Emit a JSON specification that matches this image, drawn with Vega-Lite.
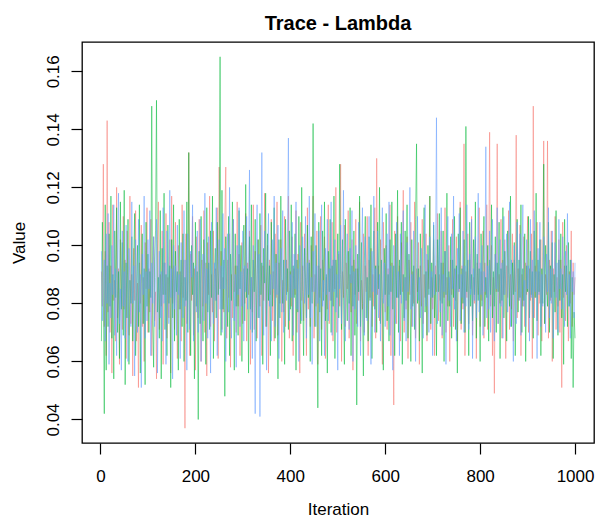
{
"$schema": "https://vega.github.io/schema/vega-lite/v6.json",
"width": 512,
"height": 401,
"autosize": {"type": "none"},
"padding": {"left": 82, "top": 42, "right": 3, "bottom": 79},
"background": "white",
"config": {"view": {"stroke": "black", "strokeWidth": 1.3}, "font": "Liberation Sans"},
"title": {"text": "Trace - Lambda", "fontSize": 20, "fontWeight": "bold", "font": "Liberation Sans", "color": "black", "anchor": "middle", "baseline": "alphabetic", "offset": 14, "dy": 22},
"data": {"values": [
{"i":2,"a":0.091,"b":0.067,"c":0.098},{"i":4,"a":0.079,"b":0.108,"c":0.074},{"i":6,"a":0.128,"b":0.085,"c":0.089},{"i":8,"a":0.072,"b":0.042,"c":0.095},{"i":10,"a":0.098,"b":0.114,"c":0.067},
{"i":12,"a":0.062,"b":0.057,"c":0.104},{"i":14,"a":0.143,"b":0.093,"c":0.080},{"i":16,"a":0.077,"b":0.072,"c":0.111},{"i":18,"a":0.108,"b":0.104,"c":0.059},{"i":20,"a":0.070,"b":0.079,"c":0.087},
{"i":22,"a":0.093,"b":0.117,"c":0.075},{"i":24,"a":0.056,"b":0.068,"c":0.100},{"i":26,"a":0.114,"b":0.090,"c":0.083},{"i":28,"a":0.081,"b":0.054,"c":0.114},{"i":30,"a":0.088,"b":0.105,"c":0.069},
{"i":32,"a":0.067,"b":0.082,"c":0.092},{"i":34,"a":0.120,"b":0.113,"c":0.062},{"i":36,"a":0.075,"b":0.070,"c":0.097},{"i":38,"a":0.092,"b":0.091,"c":0.118},{"i":40,"a":0.059,"b":0.061,"c":0.073},
{"i":42,"a":0.102,"b":0.115,"c":0.085},{"i":44,"a":0.084,"b":0.078,"c":0.057},{"i":46,"a":0.071,"b":0.101,"c":0.105},{"i":48,"a":0.110,"b":0.069,"c":0.079},{"i":50,"a":0.078,"b":0.119,"c":0.091},
{"i":52,"a":0.095,"b":0.052,"c":0.068},{"i":54,"a":0.061,"b":0.094,"c":0.107},{"i":56,"a":0.105,"b":0.075,"c":0.082},{"i":58,"a":0.083,"b":0.109,"c":0.060},{"i":60,"a":0.069,"b":0.059,"c":0.099},
{"i":62,"a":0.117,"b":0.088,"c":0.087},{"i":64,"a":0.073,"b":0.080,"c":0.072},{"i":66,"a":0.090,"b":0.103,"c":0.115},{"i":68,"a":0.055,"b":0.067,"c":0.080},{"i":70,"a":0.099,"b":0.095,"c":0.093},
{"i":72,"a":0.081,"b":0.111,"c":0.055},{"i":74,"a":0.112,"b":0.062,"c":0.102},{"i":76,"a":0.067,"b":0.084,"c":0.084},{"i":78,"a":0.087,"b":0.100,"c":0.070},{"i":80,"a":0.051,"b":0.072,"c":0.109},
{"i":82,"a":0.094,"b":0.114,"c":0.077},{"i":84,"a":0.080,"b":0.056,"c":0.090},{"i":86,"a":0.107,"b":0.087,"c":0.051},{"i":88,"a":0.072,"b":0.104,"c":0.097},{"i":90,"a":0.089,"b":0.073,"c":0.083},
{"i":92,"a":0.060,"b":0.092,"c":0.117},{"i":94,"a":0.101,"b":0.052,"c":0.068},{"i":96,"a":0.085,"b":0.108,"c":0.091},{"i":98,"a":0.113,"b":0.079,"c":0.074},{"i":100,"a":0.070,"b":0.097,"c":0.102},
{"i":102,"a":0.092,"b":0.070,"c":0.085},{"i":104,"a":0.077,"b":0.091,"c":0.112},{"i":106,"a":0.109,"b":0.082,"c":0.062},{"i":108,"a":0.062,"b":0.148,"c":0.094},{"i":110,"a":0.088,"b":0.074,"c":0.080},
{"i":112,"a":0.103,"b":0.058,"c":0.103},{"i":114,"a":0.074,"b":0.095,"c":0.072},{"i":116,"a":0.084,"b":0.105,"c":0.089},{"i":118,"a":0.054,"b":0.150,"c":0.109},{"i":120,"a":0.098,"b":0.077,"c":0.056},
{"i":122,"a":0.115,"b":0.089,"c":0.084},{"i":124,"a":0.071,"b":0.068,"c":0.098},{"i":126,"a":0.090,"b":0.112,"c":0.075},{"i":128,"a":0.079,"b":0.054,"c":0.091},{"i":130,"a":0.105,"b":0.099,"c":0.067},
{"i":132,"a":0.059,"b":0.083,"c":0.113},{"i":134,"a":0.094,"b":0.118,"c":0.080},{"i":136,"a":0.083,"b":0.071,"c":0.094},{"i":138,"a":0.111,"b":0.090,"c":0.059},{"i":140,"a":0.068,"b":0.062,"c":0.105},
{"i":142,"a":0.089,"b":0.107,"c":0.087},{"i":144,"a":0.075,"b":0.080,"c":0.073},{"i":146,"a":0.102,"b":0.093,"c":0.119},{"i":148,"a":0.056,"b":0.051,"c":0.082},{"i":150,"a":0.117,"b":0.102,"c":0.092},
{"i":152,"a":0.080,"b":0.075,"c":0.054},{"i":154,"a":0.093,"b":0.114,"c":0.100},{"i":156,"a":0.071,"b":0.067,"c":0.078},{"i":158,"a":0.108,"b":0.098,"c":0.093},{"i":160,"a":0.085,"b":0.084,"c":0.069},
{"i":162,"a":0.061,"b":0.091,"c":0.107},{"i":164,"a":0.100,"b":0.057,"c":0.083},{"i":166,"a":0.078,"b":0.109,"c":0.090},{"i":168,"a":0.091,"b":0.078,"c":0.061},{"i":170,"a":0.067,"b":0.095,"c":0.101},
{"i":172,"a":0.114,"b":0.072,"c":0.087},{"i":174,"a":0.082,"b":0.104,"c":0.075},{"i":176,"a":0.095,"b":0.060,"c":0.112},{"i":178,"a":0.037,"b":0.089,"c":0.079},{"i":180,"a":0.104,"b":0.081,"c":0.095},
{"i":182,"a":0.073,"b":0.115,"c":0.057},{"i":184,"a":0.089,"b":0.070,"c":0.104},{"i":186,"a":0.132,"b":0.132,"c":0.084},{"i":188,"a":0.062,"b":0.087,"c":0.071},{"i":190,"a":0.097,"b":0.062,"c":0.098},
{"i":192,"a":0.081,"b":0.100,"c":0.089},{"i":194,"a":0.110,"b":0.083,"c":0.114},{"i":196,"a":0.069,"b":0.094,"c":0.067},{"i":198,"a":0.092,"b":0.054,"c":0.082},{"i":200,"a":0.057,"b":0.108,"c":0.093},
{"i":202,"a":0.103,"b":0.079,"c":0.077},{"i":204,"a":0.084,"b":0.091,"c":0.105},{"i":206,"a":0.075,"b":0.040,"c":0.070},{"i":208,"a":0.109,"b":0.098,"c":0.091},{"i":210,"a":0.088,"b":0.073,"c":0.109},
{"i":212,"a":0.060,"b":0.110,"c":0.060},{"i":214,"a":0.095,"b":0.085,"c":0.085},{"i":216,"a":0.079,"b":0.067,"c":0.097},{"i":218,"a":0.112,"b":0.102,"c":0.074},{"i":220,"a":0.070,"b":0.089,"c":0.118},
{"i":222,"a":0.094,"b":0.059,"c":0.080},{"i":224,"a":0.055,"b":0.113,"c":0.092},{"i":226,"a":0.101,"b":0.077,"c":0.068},{"i":228,"a":0.083,"b":0.094,"c":0.103},{"i":230,"a":0.117,"b":0.071,"c":0.084},
{"i":232,"a":0.072,"b":0.105,"c":0.056},{"i":234,"a":0.090,"b":0.082,"c":0.108},{"i":236,"a":0.077,"b":0.117,"c":0.087},{"i":238,"a":0.105,"b":0.061,"c":0.073},{"i":240,"a":0.067,"b":0.090,"c":0.094},
{"i":242,"a":0.092,"b":0.099,"c":0.081},{"i":244,"a":0.081,"b":0.075,"c":0.113},{"i":246,"a":0.113,"b":0.108,"c":0.062},{"i":248,"a":0.061,"b":0.083,"c":0.090},{"i":250,"a":0.127,"b":0.092,"c":0.102},
{"i":252,"a":0.085,"b":0.165,"c":0.078},{"i":254,"a":0.098,"b":0.069,"c":0.093},{"i":256,"a":0.071,"b":0.119,"c":0.070},{"i":258,"a":0.089,"b":0.078,"c":0.111},{"i":260,"a":0.077,"b":0.095,"c":0.085},
{"i":262,"a":0.108,"b":0.048,"c":0.099},{"i":264,"a":0.127,"b":0.103,"c":0.060},{"i":266,"a":0.068,"b":0.084,"c":0.088},{"i":268,"a":0.095,"b":0.072,"c":0.104},{"i":270,"a":0.082,"b":0.110,"c":0.077},
{"i":272,"a":0.104,"b":0.062,"c":0.120},{"i":274,"a":0.058,"b":0.097,"c":0.082},{"i":276,"a":0.090,"b":0.081,"c":0.068},{"i":278,"a":0.075,"b":0.115,"c":0.095},{"i":280,"a":0.109,"b":0.088,"c":0.109},
{"i":282,"a":0.084,"b":0.057,"c":0.074},{"i":284,"a":0.093,"b":0.104,"c":0.090},{"i":286,"a":0.070,"b":0.079,"c":0.058},{"i":288,"a":0.115,"b":0.093,"c":0.100},{"i":290,"a":0.079,"b":0.069,"c":0.083},
{"i":292,"a":0.097,"b":0.112,"c":0.113},{"i":294,"a":0.062,"b":0.085,"c":0.072},{"i":296,"a":0.088,"b":0.100,"c":0.091},{"i":298,"a":0.101,"b":0.060,"c":0.079},{"i":300,"a":0.073,"b":0.090,"c":0.105},
{"i":302,"a":0.092,"b":0.107,"c":0.067},{"i":304,"a":0.080,"b":0.074,"c":0.093},{"i":306,"a":0.111,"b":0.121,"c":0.084},{"i":308,"a":0.067,"b":0.082,"c":0.110},{"i":310,"a":0.094,"b":0.092,"c":0.078},
{"i":312,"a":0.083,"b":0.056,"c":0.094},{"i":314,"a":0.105,"b":0.103,"c":0.126},{"i":316,"a":0.059,"b":0.078,"c":0.071},{"i":318,"a":0.089,"b":0.114,"c":0.089},{"i":320,"a":0.077,"b":0.070,"c":0.061},
{"i":322,"a":0.114,"b":0.095,"c":0.100},{"i":324,"a":0.071,"b":0.084,"c":0.083},{"i":326,"a":0.098,"b":0.109,"c":0.042},{"i":328,"a":0.085,"b":0.067,"c":0.092},{"i":330,"a":0.068,"b":0.090,"c":0.114},
{"i":332,"a":0.102,"b":0.102,"c":0.075},{"i":334,"a":0.090,"b":0.075,"c":0.097},{"i":336,"a":0.079,"b":0.111,"c":0.041},{"i":338,"a":0.107,"b":0.083,"c":0.088},{"i":340,"a":0.062,"b":0.094,"c":0.132},
{"i":342,"a":0.093,"b":0.059,"c":0.081},{"i":344,"a":0.081,"b":0.099,"c":0.069},{"i":346,"a":0.118,"b":0.087,"c":0.105},{"i":348,"a":0.072,"b":0.118,"c":0.084},{"i":350,"a":0.087,"b":0.072,"c":0.057},
{"i":352,"a":0.100,"b":0.104,"c":0.095},{"i":354,"a":0.056,"b":0.081,"c":0.111},{"i":356,"a":0.095,"b":0.093,"c":0.079},{"i":358,"a":0.083,"b":0.062,"c":0.090},{"i":360,"a":0.109,"b":0.108,"c":0.067},
{"i":362,"a":0.074,"b":0.079,"c":0.102},{"i":364,"a":0.091,"b":0.090,"c":0.085},{"i":366,"a":0.067,"b":0.113,"c":0.117},{"i":368,"a":0.104,"b":0.068,"c":0.072},{"i":370,"a":0.082,"b":0.097,"c":0.094},
{"i":372,"a":0.115,"b":0.084,"c":0.083},{"i":374,"a":0.069,"b":0.054,"c":0.107},{"i":376,"a":0.094,"b":0.102,"c":0.061},{"i":378,"a":0.080,"b":0.075,"c":0.091},{"i":380,"a":0.102,"b":0.117,"c":0.099},
{"i":382,"a":0.060,"b":0.089,"c":0.077},{"i":384,"a":0.088,"b":0.080,"c":0.112},{"i":386,"a":0.077,"b":0.095,"c":0.070},{"i":388,"a":0.110,"b":0.059,"c":0.087},{"i":390,"a":0.072,"b":0.109,"c":0.095},
{"i":392,"a":0.095,"b":0.083,"c":0.081},{"i":394,"a":0.084,"b":0.092,"c":0.104},{"i":396,"a":0.117,"b":0.071,"c":0.137},{"i":398,"a":0.068,"b":0.105,"c":0.074},{"i":400,"a":0.091,"b":0.078,"c":0.090},
{"i":402,"a":0.079,"b":0.114,"c":0.082},{"i":404,"a":0.103,"b":0.067,"c":0.108},{"i":406,"a":0.062,"b":0.093,"c":0.069},{"i":408,"a":0.092,"b":0.082,"c":0.097},{"i":410,"a":0.083,"b":0.104,"c":0.085},
{"i":412,"a":0.112,"b":0.057,"c":0.115},{"i":414,"a":0.070,"b":0.095,"c":0.078},{"i":416,"a":0.097,"b":0.077,"c":0.092},{"i":418,"a":0.085,"b":0.110,"c":0.060},{"i":420,"a":0.056,"b":0.088,"c":0.100},
{"i":422,"a":0.108,"b":0.073,"c":0.087},{"i":424,"a":0.081,"b":0.120,"c":0.074},{"i":426,"a":0.093,"b":0.084,"c":0.103},{"i":428,"a":0.074,"b":0.062,"c":0.091},{"i":430,"a":0.104,"b":0.099,"c":0.080},
{"i":432,"a":0.087,"b":0.089,"c":0.110},{"i":434,"a":0.062,"b":0.075,"c":0.068},{"i":436,"a":0.113,"b":0.107,"c":0.094},{"i":438,"a":0.078,"b":0.082,"c":0.083},{"i":440,"a":0.095,"b":0.094,"c":0.117},
{"i":442,"a":0.072,"b":0.060,"c":0.075},{"i":444,"a":0.100,"b":0.103,"c":0.089},{"i":446,"a":0.084,"b":0.080,"c":0.059},{"i":448,"a":0.117,"b":0.142,"c":0.098},{"i":450,"a":0.068,"b":0.087,"c":0.084},
{"i":452,"a":0.090,"b":0.072,"c":0.111},{"i":454,"a":0.079,"b":0.100,"c":0.072},{"i":456,"a":0.105,"b":0.083,"c":0.093},{"i":458,"a":0.059,"b":0.044,"c":0.080},{"i":460,"a":0.093,"b":0.108,"c":0.105},
{"i":462,"a":0.082,"b":0.077,"c":0.067},{"i":464,"a":0.110,"b":0.092,"c":0.092},{"i":466,"a":0.071,"b":0.062,"c":0.114},{"i":468,"a":0.095,"b":0.105,"c":0.079},{"i":470,"a":0.084,"b":0.081,"c":0.088},
{"i":472,"a":0.103,"b":0.115,"c":0.062},{"i":474,"a":0.061,"b":0.074,"c":0.099},{"i":476,"a":0.089,"b":0.090,"c":0.083},{"i":478,"a":0.078,"b":0.056,"c":0.109},{"i":480,"a":0.114,"b":0.098,"c":0.074},
{"i":482,"a":0.073,"b":0.084,"c":0.092},{"i":484,"a":0.092,"b":0.109,"c":0.081},{"i":486,"a":0.081,"b":0.070,"c":0.115},{"i":488,"a":0.108,"b":0.093,"c":0.069},{"i":490,"a":0.067,"b":0.079,"c":0.095},
{"i":492,"a":0.095,"b":0.117,"c":0.084},{"i":494,"a":0.085,"b":0.061,"c":0.102},{"i":496,"a":0.120,"b":0.095,"c":0.077},{"i":498,"a":0.070,"b":0.082,"c":0.090},{"i":500,"a":0.088,"b":0.104,"c":0.057},
{"i":502,"a":0.097,"b":0.075,"c":0.098},{"i":504,"a":0.079,"b":0.128,"c":0.085},{"i":506,"a":0.128,"b":0.090,"c":0.107},{"i":508,"a":0.060,"b":0.071,"c":0.073},{"i":510,"a":0.091,"b":0.102,"c":0.092},
{"i":512,"a":0.082,"b":0.083,"c":0.119},{"i":514,"a":0.107,"b":0.059,"c":0.080},{"i":516,"a":0.072,"b":0.109,"c":0.067},{"i":518,"a":0.094,"b":0.087,"c":0.094},{"i":520,"a":0.085,"b":0.074,"c":0.104},
{"i":522,"a":0.112,"b":0.098,"c":0.083},{"i":524,"a":0.068,"b":0.080,"c":0.071},{"i":526,"a":0.090,"b":0.113,"c":0.099},{"i":528,"a":0.077,"b":0.062,"c":0.087},{"i":530,"a":0.102,"b":0.093,"c":0.112},
{"i":532,"a":0.057,"b":0.079,"c":0.060},{"i":534,"a":0.095,"b":0.105,"c":0.091},{"i":536,"a":0.083,"b":0.069,"c":0.078},{"i":538,"a":0.109,"b":0.092,"c":0.100},{"i":540,"a":0.073,"b":0.045,"c":0.085},
{"i":542,"a":0.092,"b":0.097,"c":0.072},{"i":544,"a":0.081,"b":0.084,"c":0.108},{"i":546,"a":0.115,"b":0.117,"c":0.089},{"i":548,"a":0.067,"b":0.072,"c":0.062},{"i":550,"a":0.088,"b":0.101,"c":0.095},
{"i":552,"a":0.078,"b":0.080,"c":0.113},{"i":554,"a":0.104,"b":0.055,"c":0.081},{"i":556,"a":0.070,"b":0.094,"c":0.069},{"i":558,"a":0.093,"b":0.110,"c":0.103},{"i":560,"a":0.084,"b":0.075,"c":0.087},
{"i":562,"a":0.110,"b":0.089,"c":0.074},{"i":564,"a":0.062,"b":0.067,"c":0.093},{"i":566,"a":0.095,"b":0.103,"c":0.110},{"i":568,"a":0.082,"b":0.081,"c":0.079},{"i":570,"a":0.099,"b":0.114,"c":0.059},
{"i":572,"a":0.072,"b":0.061,"c":0.098},{"i":574,"a":0.090,"b":0.092,"c":0.084},{"i":576,"a":0.079,"b":0.105,"c":0.117},{"i":578,"a":0.113,"b":0.078,"c":0.070},{"i":580,"a":0.068,"b":0.093,"c":0.092},
{"i":582,"a":0.130,"b":0.070,"c":0.083},{"i":584,"a":0.083,"b":0.108,"c":0.105},{"i":586,"a":0.093,"b":0.085,"c":0.075},{"i":588,"a":0.074,"b":0.120,"c":0.090},{"i":590,"a":0.102,"b":0.073,"c":0.067},
{"i":592,"a":0.085,"b":0.095,"c":0.099},{"i":594,"a":0.059,"b":0.082,"c":0.113},{"i":596,"a":0.108,"b":0.057,"c":0.080},{"i":598,"a":0.089,"b":0.099,"c":0.094},{"i":600,"a":0.077,"b":0.083,"c":0.072},
{"i":602,"a":0.100,"b":0.111,"c":0.088},{"i":604,"a":0.071,"b":0.074,"c":0.104},{"i":606,"a":0.092,"b":0.090,"c":0.079},{"i":608,"a":0.083,"b":0.067,"c":0.115},{"i":610,"a":0.114,"b":0.102,"c":0.069},
{"i":612,"a":0.062,"b":0.084,"c":0.093},{"i":614,"a":0.094,"b":0.115,"c":0.083},{"i":616,"a":0.079,"b":0.078,"c":0.057},{"i":618,"a":0.045,"b":0.093,"c":0.100},{"i":620,"a":0.105,"b":0.062,"c":0.087},
{"i":622,"a":0.088,"b":0.104,"c":0.073},{"i":624,"a":0.073,"b":0.082,"c":0.108},{"i":626,"a":0.110,"b":0.119,"c":0.082},{"i":628,"a":0.082,"b":0.070,"c":0.091},{"i":630,"a":0.093,"b":0.095,"c":0.062},
{"i":632,"a":0.067,"b":0.083,"c":0.104},{"i":634,"a":0.101,"b":0.108,"c":0.080},{"i":636,"a":0.084,"b":0.059,"c":0.095},{"i":638,"a":0.119,"b":0.090,"c":0.112},{"i":640,"a":0.070,"b":0.075,"c":0.074},
{"i":642,"a":0.089,"b":0.105,"c":0.089},{"i":644,"a":0.078,"b":0.081,"c":0.067},{"i":646,"a":0.103,"b":0.114,"c":0.101},{"i":648,"a":0.061,"b":0.068,"c":0.084},{"i":650,"a":0.095,"b":0.097,"c":0.093},
{"i":652,"a":0.083,"b":0.084,"c":0.120},{"i":654,"a":0.108,"b":0.060,"c":0.078},{"i":656,"a":0.072,"b":0.102,"c":0.090},{"i":658,"a":0.091,"b":0.079,"c":0.072},{"i":660,"a":0.080,"b":0.093,"c":0.105},
{"i":662,"a":0.115,"b":0.071,"c":0.085},{"i":664,"a":0.068,"b":0.109,"c":0.060},{"i":666,"a":0.092,"b":0.135,"c":0.094},{"i":668,"a":0.084,"b":0.080,"c":0.110},{"i":670,"a":0.101,"b":0.092,"c":0.081},
{"i":672,"a":0.059,"b":0.067,"c":0.089},{"i":674,"a":0.093,"b":0.104,"c":0.075},{"i":676,"a":0.079,"b":0.085,"c":0.099},{"i":678,"a":0.109,"b":0.056,"c":0.084},{"i":680,"a":0.073,"b":0.098,"c":0.068},
{"i":682,"a":0.090,"b":0.113,"c":0.092},{"i":684,"a":0.082,"b":0.077,"c":0.114},{"i":686,"a":0.104,"b":0.091,"c":0.079},{"i":688,"a":0.067,"b":0.069,"c":0.097},{"i":690,"a":0.095,"b":0.100,"c":0.087},
{"i":692,"a":0.085,"b":0.083,"c":0.070},{"i":694,"a":0.117,"b":0.117,"c":0.103},{"i":696,"a":0.071,"b":0.073,"c":0.082},{"i":698,"a":0.089,"b":0.094,"c":0.091},{"i":700,"a":0.078,"b":0.082,"c":0.062},
{"i":702,"a":0.102,"b":0.107,"c":0.108},{"i":704,"a":0.062,"b":0.075,"c":0.083},{"i":706,"a":0.093,"b":0.090,"c":0.094},{"i":708,"a":0.084,"b":0.062,"c":0.144},{"i":710,"a":0.111,"b":0.102,"c":0.073},
{"i":712,"a":0.074,"b":0.084,"c":0.088},{"i":714,"a":0.090,"b":0.111,"c":0.102},{"i":716,"a":0.081,"b":0.072,"c":0.077},{"i":718,"a":0.105,"b":0.094,"c":0.113},{"i":720,"a":0.068,"b":0.080,"c":0.069},
{"i":722,"a":0.094,"b":0.105,"c":0.090},{"i":724,"a":0.082,"b":0.060,"c":0.084},{"i":726,"a":0.113,"b":0.098,"c":0.098},{"i":728,"a":0.070,"b":0.083,"c":0.059},{"i":730,"a":0.089,"b":0.118,"c":0.093},
{"i":732,"a":0.079,"b":0.074,"c":0.110},{"i":734,"a":0.100,"b":0.091,"c":0.081},{"i":736,"a":0.060,"b":0.079,"c":0.089},{"i":738,"a":0.095,"b":0.103,"c":0.072},{"i":740,"a":0.083,"b":0.068,"c":0.104},
{"i":742,"a":0.109,"b":0.095,"c":0.085},{"i":744,"a":0.072,"b":0.082,"c":0.117},{"i":746,"a":0.092,"b":0.110,"c":0.078},{"i":748,"a":0.081,"b":0.071,"c":0.092},{"i":750,"a":0.103,"b":0.093,"c":0.067},
{"i":752,"a":0.067,"b":0.056,"c":0.099},{"i":754,"a":0.090,"b":0.104,"c":0.084},{"i":756,"a":0.084,"b":0.085,"c":0.111},{"i":758,"a":0.115,"b":0.113,"c":0.074},{"i":760,"a":0.071,"b":0.073,"c":0.090},
{"i":762,"a":0.093,"b":0.092,"c":0.082},{"i":764,"a":0.078,"b":0.080,"c":0.105},{"i":766,"a":0.135,"b":0.102,"c":0.070},{"i":768,"a":0.062,"b":0.070,"c":0.093},{"i":770,"a":0.091,"b":0.141,"c":0.079},
{"i":772,"a":0.082,"b":0.084,"c":0.114},{"i":774,"a":0.104,"b":0.095,"c":0.088},{"i":776,"a":0.073,"b":0.062,"c":0.071},{"i":778,"a":0.095,"b":0.108,"c":0.097},{"i":780,"a":0.085,"b":0.079,"c":0.083},
{"i":782,"a":0.110,"b":0.090,"c":0.109},{"i":784,"a":0.069,"b":0.074,"c":0.061},{"i":786,"a":0.089,"b":0.102,"c":0.092},{"i":788,"a":0.080,"b":0.083,"c":0.081},{"i":790,"a":0.102,"b":0.115,"c":0.103},
{"i":792,"a":0.061,"b":0.068,"c":0.075},{"i":794,"a":0.094,"b":0.097,"c":0.090},{"i":796,"a":0.083,"b":0.081,"c":0.118},{"i":798,"a":0.113,"b":0.092,"c":0.077},{"i":800,"a":0.072,"b":0.060,"c":0.094},
{"i":802,"a":0.091,"b":0.104,"c":0.083},{"i":804,"a":0.081,"b":0.079,"c":0.100},{"i":806,"a":0.105,"b":0.093,"c":0.069},{"i":808,"a":0.068,"b":0.110,"c":0.091},{"i":810,"a":0.094,"b":0.072,"c":0.084},
{"i":812,"a":0.083,"b":0.089,"c":0.134},{"i":814,"a":0.114,"b":0.082,"c":0.075},{"i":816,"a":0.071,"b":0.100,"c":0.093},{"i":818,"a":0.092,"b":0.067,"c":0.078},{"i":820,"a":0.139,"b":0.095,"c":0.105},
{"i":822,"a":0.079,"b":0.083,"c":0.070},{"i":824,"a":0.100,"b":0.114,"c":0.092},{"i":826,"a":0.062,"b":0.075,"c":0.109},{"i":828,"a":0.089,"b":0.091,"c":0.082},{"i":830,"a":0.049,"b":0.079,"c":0.067},
{"i":832,"a":0.097,"b":0.103,"c":0.097},{"i":834,"a":0.084,"b":0.070,"c":0.085},{"i":836,"a":0.135,"b":0.094,"c":0.113},{"i":838,"a":0.073,"b":0.084,"c":0.073},{"i":840,"a":0.090,"b":0.108,"c":0.090},
{"i":842,"a":0.080,"b":0.061,"c":0.102},{"i":844,"a":0.109,"b":0.092,"c":0.079},{"i":846,"a":0.068,"b":0.081,"c":0.094},{"i":848,"a":0.095,"b":0.113,"c":0.068},{"i":850,"a":0.083,"b":0.075,"c":0.110},
{"i":852,"a":0.102,"b":0.098,"c":0.083},{"i":854,"a":0.061,"b":0.085,"c":0.091},{"i":856,"a":0.093,"b":0.067,"c":0.104},{"i":858,"a":0.082,"b":0.105,"c":0.077},{"i":860,"a":0.112,"b":0.090,"c":0.089},
{"i":862,"a":0.071,"b":0.079,"c":0.115},{"i":864,"a":0.090,"b":0.117,"c":0.072},{"i":866,"a":0.078,"b":0.072,"c":0.095},{"i":868,"a":0.104,"b":0.094,"c":0.084},{"i":870,"a":0.067,"b":0.083,"c":0.060},
{"i":872,"a":0.095,"b":0.101,"c":0.100},{"i":874,"a":0.084,"b":0.062,"c":0.087},{"i":876,"a":0.138,"b":0.090,"c":0.073},{"i":878,"a":0.075,"b":0.109,"c":0.108},{"i":880,"a":0.092,"b":0.077,"c":0.090},
{"i":882,"a":0.081,"b":0.095,"c":0.081},{"i":884,"a":0.107,"b":0.082,"c":0.104},{"i":886,"a":0.062,"b":0.114,"c":0.069},{"i":888,"a":0.090,"b":0.070,"c":0.092},{"i":890,"a":0.079,"b":0.092,"c":0.114},
{"i":892,"a":0.103,"b":0.081,"c":0.079},{"i":894,"a":0.072,"b":0.104,"c":0.088},{"i":896,"a":0.094,"b":0.060,"c":0.072},{"i":898,"a":0.083,"b":0.093,"c":0.102},{"i":900,"a":0.110,"b":0.084,"c":0.085},
{"i":902,"a":0.070,"b":0.110,"c":0.093},{"i":904,"a":0.092,"b":0.075,"c":0.067},{"i":906,"a":0.081,"b":0.098,"c":0.109},{"i":908,"a":0.104,"b":0.083,"c":0.082},{"i":910,"a":0.061,"b":0.091,"c":0.095},
{"i":912,"a":0.148,"b":0.068,"c":0.075},{"i":914,"a":0.075,"b":0.105,"c":0.112},{"i":916,"a":0.093,"b":0.082,"c":0.084},{"i":918,"a":0.082,"b":0.118,"c":0.091},{"i":920,"a":0.108,"b":0.074,"c":0.061},
{"i":922,"a":0.069,"b":0.095,"c":0.099},{"i":924,"a":0.091,"b":0.084,"c":0.083},{"i":926,"a":0.080,"b":0.102,"c":0.108},{"i":928,"a":0.102,"b":0.062,"c":0.072},{"i":930,"a":0.067,"b":0.092,"c":0.090},
{"i":932,"a":0.094,"b":0.080,"c":0.079},{"i":934,"a":0.136,"b":0.128,"c":0.103},{"i":936,"a":0.073,"b":0.073,"c":0.087},{"i":938,"a":0.090,"b":0.100,"c":0.070},{"i":940,"a":0.083,"b":0.087,"c":0.097},
{"i":942,"a":0.136,"b":0.079,"c":0.084},{"i":944,"a":0.068,"b":0.108,"c":0.113},{"i":946,"a":0.095,"b":0.070,"c":0.075},{"i":948,"a":0.081,"b":0.093,"c":0.092},{"i":950,"a":0.105,"b":0.082,"c":0.080},
{"i":952,"a":0.060,"b":0.101,"c":0.105},{"i":954,"a":0.092,"b":0.061,"c":0.068},{"i":956,"a":0.084,"b":0.090,"c":0.089},{"i":958,"a":0.110,"b":0.077,"c":0.101},{"i":960,"a":0.071,"b":0.112,"c":0.082},
{"i":962,"a":0.089,"b":0.083,"c":0.094},{"i":964,"a":0.079,"b":0.069,"c":0.070},{"i":966,"a":0.102,"b":0.095,"c":0.109},{"i":968,"a":0.070,"b":0.081,"c":0.085},{"i":970,"a":0.095,"b":0.104,"c":0.092},
{"i":972,"a":0.051,"b":0.075,"c":0.078},{"i":974,"a":0.108,"b":0.090,"c":0.103},{"i":976,"a":0.082,"b":0.059,"c":0.087},{"i":978,"a":0.093,"b":0.109,"c":0.072},{"i":980,"a":0.074,"b":0.084,"c":0.098},
{"i":982,"a":0.100,"b":0.093,"c":0.083},{"i":984,"a":0.085,"b":0.072,"c":0.111},{"i":986,"a":0.067,"b":0.101,"c":0.079},{"i":988,"a":0.091,"b":0.079,"c":0.090},{"i":990,"a":0.080,"b":0.095,"c":0.068},
{"i":992,"a":0.105,"b":0.061,"c":0.095},{"i":994,"a":0.072,"b":0.089,"c":0.084},{"i":996,"a":0.094,"b":0.051,"c":0.091},{"i":998,"a":0.083,"b":0.077,"c":0.075},{"i":1000,"a":0.089,"b":0.068,"c":0.094}
]},
"transform": [{"fold": ["a", "b", "c"], "as": ["chain", "value"]}],
"mark": {"type": "line", "strokeWidth": 1, "opacity": 0.5},
"encoding": {
"x": {"field": "i", "type": "quantitative",
 "scale": {"domain": [-38.96, 1039.96], "nice": false, "zero": false},
 "axis": {"values": [0, 200, 400, 600, 800, 1000], "format": "d", "domain": false, "grid": false,
  "tickColor": "black", "tickSize": 11, "tickWidth": 1.2, "labelFontSize": 17, "labelColor": "black", "labelPadding": 14,
  "labelFont": "Liberation Sans", "labelOverlap": false, "labelFlush": false,
  "title": "Iteration", "titleFontSize": 17, "titleFontWeight": "normal", "titleColor": "black", "titleFont": "Liberation Sans",
  "titleY": 71, "titleBaseline": "alphabetic"}},
"y": {"field": "value", "type": "quantitative",
 "scale": {"domain": [0.0319, 0.1701], "nice": false, "zero": false},
 "axis": {"values": [0.04, 0.06, 0.08, 0.10, 0.12, 0.14, 0.16], "format": ".2f", "domain": false, "grid": false,
  "tickColor": "black", "tickSize": 11, "tickWidth": 1.2, "labelFontSize": 17, "labelColor": "black", "labelPadding": 13,
  "labelFont": "Liberation Sans", "labelAngle": 270, "labelAlign": "center", "labelBaseline": "alphabetic", "labelOverlap": false, "labelFlush": false,
  "title": "Value", "titleFontSize": 17, "titleFontWeight": "normal", "titleColor": "black", "titleFont": "Liberation Sans",
  "titleAngle": 270, "titleX": -58, "titleY": 200.5, "titleAlign": "center", "titleBaseline": "alphabetic"}},
"color": {"field": "chain", "type": "nominal", "scale": {"domain": ["a", "b", "c"], "range": ["#F8766D", "#00BA38", "#619CFF"]}, "legend": null}
}
}
